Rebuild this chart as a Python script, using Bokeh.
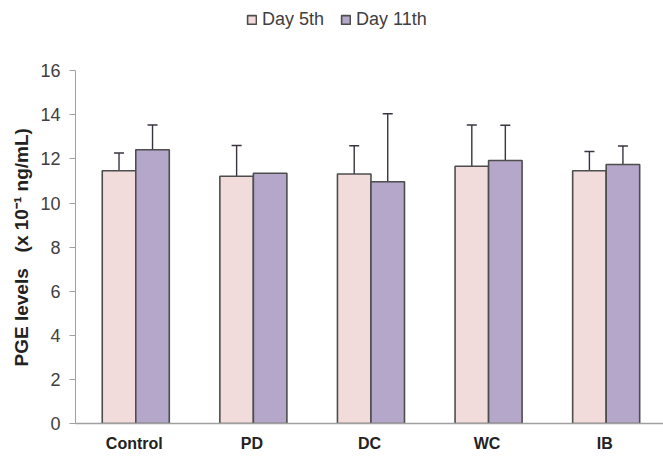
from bokeh.plotting import figure
from bokeh.models import ColumnDataSource, Whisker, TeeHead, Legend, LegendItem, Range1d, FactorRange
from bokeh.transform import dodge
from bokeh.embed import file_html
from bokeh.resources import INLINE

categories = ["Control", "PD", "DC", "WC", "IB"]
day5 = [11.47, 11.22, 11.32, 11.67, 11.47]
day5_err = [0.80, 1.39, 1.28, 1.87, 0.87]
day11 = [12.42, 11.35, 10.97, 11.93, 11.75]
day11_err = [1.12, 0.0, 3.08, 1.60, 0.84]
series_names = ["Day 5th", "Day 11th"]
colors = ["#f2dcdb", "#b5a7c9"]
y_ticks = [0, 2, 4, 6, 8, 10, 12, 14, 16]

p = figure(x_range=FactorRange(*categories, range_padding=0.0), y_range=Range1d(0, 19.1),
           width=663, height=463, output_backend="svg", toolbar_location=None,
           min_border_left=75, min_border_right=0, min_border_top=2, min_border_bottom=40)
p.outline_line_color = None
p.xgrid.grid_line_color = None
p.ygrid.grid_line_color = None
p.background_fill_color = "white"

offsets = [-0.13, 0.155]
renderers = []
for vals, errs, off, col in [(day5, day5_err, offsets[0], colors[0]),
                             (day11, day11_err, offsets[1], colors[1])]:
    src = ColumnDataSource(dict(cat=categories, val=vals))
    r = p.vbar(x=dodge("cat", off, range=p.x_range), top="val", width=0.285, source=src,
               fill_color=col, line_color="#4d4d4d", line_width=1.6)
    renderers.append(r)
    ec = [c for c, e in zip(categories, errs) if e > 0]
    eu = [v + e for v, e in zip(vals, errs) if e > 0]
    el = [v - e for v, e in zip(vals, errs) if e > 0]
    esrc = ColumnDataSource(dict(cat=ec, upper=eu, lower=el))
    w = Whisker(base=dodge("cat", off, range=p.x_range), upper="upper", lower="lower", source=esrc,
                line_color="#3a3340", line_width=1.4,
                upper_head=TeeHead(size=10, line_color="#3a3340", line_width=1.6),
                lower_head=TeeHead(size=10, line_color="#3a3340", line_width=1.6))
    p.add_layout(w)

legend = Legend(items=[LegendItem(label=series_names[i], renderers=[renderers[i]]) for i in range(2)],
                orientation="horizontal", location=(171, 393), border_line_color=None,
                background_fill_alpha=0,
                label_text_font="Liberation Sans", label_text_font_size="18px",
                label_text_color="#404040", glyph_width=11, glyph_height=11,
                spacing=16, label_standoff=5, padding=3, margin=0)
p.add_layout(legend, "center")

p.yaxis.bounds = (0, 16)
p.yaxis.ticker = y_ticks
p.yaxis.axis_line_color = "#a0a0a0"
p.yaxis.major_tick_line_color = "#a0a0a0"
p.yaxis.major_tick_out = 6
p.yaxis.major_tick_in = 0
p.yaxis.minor_tick_line_color = None
p.yaxis.major_label_text_font = "Liberation Sans"
p.yaxis.major_label_text_font_size = "18px"
p.yaxis.major_label_text_color = "#404040"
p.yaxis.major_label_standoff = 9
pad = "\u00a0" * 13
p.yaxis.axis_label = "PGE levels\u00a0\u00a0\u00a0(x 10\u207b\u00b9 ng/mL)" + pad
p.yaxis.axis_label_text_font = "Liberation Sans"
p.yaxis.axis_label_text_font_style = "bold"
p.yaxis.axis_label_text_font_size = "19px"
p.yaxis.axis_label_text_color = "#222222"
p.yaxis.axis_label_standoff = 5

p.xaxis.axis_line_color = "#a0a0a0"
p.xaxis.axis_line_width = 1.5
p.xaxis.major_tick_line_color = None
p.xaxis.minor_tick_line_color = None
p.xaxis.major_label_text_font = "Liberation Sans"
p.xaxis.major_label_text_font_style = "bold"
p.xaxis.major_label_text_font_size = "16px"
p.xaxis.major_label_text_color = "#222222"
p.xaxis.major_label_standoff = 5

open("out.html", "w").write(file_html(p, INLINE))
